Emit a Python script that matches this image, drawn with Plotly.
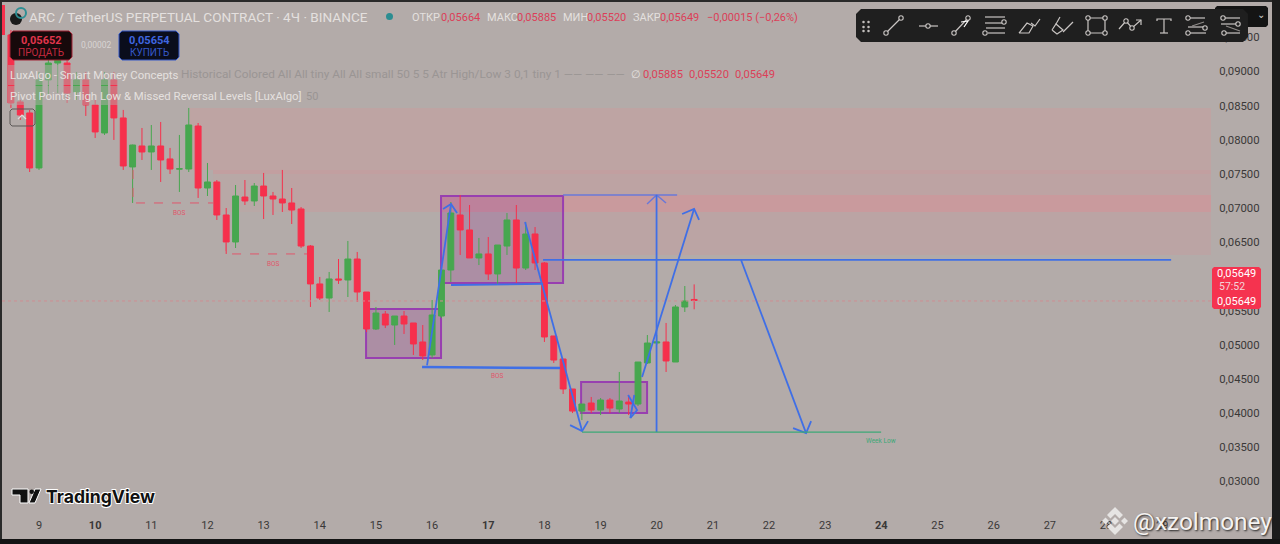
import plotly.graph_objects as go

# candles every 4h, x in days of the month, first candle is on the 8th at 12:00
candle_open = [
    0.09534, 0.08554, 0.08393, 0.07588, 0.08876, 0.09124, 0.09124, 0.08700, 0.08876, 0.08510,
    0.08100, 0.08876, 0.08320, 0.07603, 0.07910, 0.07822, 0.07910, 0.07720, 0.07573, 0.07573,
    0.08202, 0.07295, 0.07383, 0.06900, 0.06505, 0.07163, 0.07105, 0.07324, 0.07178, 0.07134,
    0.07076, 0.06988, 0.06446, 0.05891, 0.05685, 0.05964, 0.05949, 0.06256, 0.05773, 0.05232,
    0.05451, 0.05290, 0.05422, 0.05320, 0.05042, 0.04852, 0.05422, 0.06095, 0.06900, 0.06681,
    0.06271, 0.06330, 0.06037, 0.06446, 0.06827, 0.06124, 0.06622, 0.06198, 0.05130, 0.04793,
    0.04354, 0.04031, 0.04149, 0.04046, 0.04193, 0.04061, 0.04163, 0.04134, 0.04735, 0.05027,
    0.05042, 0.04749, 0.05554, 0.05664]
candle_close = [
    0.08539, 0.08363, 0.07588, 0.08876, 0.09124, 0.09198, 0.08685, 0.08876, 0.08510, 0.08115,
    0.08876, 0.08320, 0.07617, 0.07924, 0.07822, 0.07910, 0.07705, 0.07573, 0.07575, 0.08217,
    0.07295, 0.07383, 0.06900, 0.06505, 0.07178, 0.07105, 0.07324, 0.07178, 0.07134, 0.07076,
    0.06973, 0.06446, 0.05891, 0.05685, 0.05964, 0.05949, 0.06256, 0.05773, 0.05232, 0.05466,
    0.05290, 0.05422, 0.05305, 0.05013, 0.04837, 0.05437, 0.06095, 0.06929, 0.06681, 0.06271,
    0.06330, 0.06037, 0.06461, 0.06827, 0.06124, 0.06622, 0.06198, 0.05115, 0.04778, 0.04354,
    0.04031, 0.04134, 0.04046, 0.04193, 0.04075, 0.04178, 0.04134, 0.04749, 0.05027, 0.05042,
    0.04764, 0.05554, 0.05642, 0.05649]
candle_high = [
    0.09607, 0.08583, 0.08437, 0.08993, 0.09241, 0.09315, 0.09241, 0.08993, 0.08993, 0.08583,
    0.08993, 0.08993, 0.08437, 0.07930, 0.08173, 0.08217, 0.08261, 0.07881, 0.08071, 0.08466,
    0.08246, 0.07661, 0.07412, 0.07002, 0.07339, 0.07412, 0.07368, 0.07515, 0.07237, 0.07559,
    0.07295, 0.07017, 0.06461, 0.05993, 0.06066, 0.06256, 0.06520, 0.06359, 0.05773, 0.05554,
    0.05495, 0.05422, 0.05495, 0.05320, 0.05290, 0.05656, 0.06168, 0.07090, 0.07193, 0.07046,
    0.06564, 0.06578, 0.06461, 0.06929, 0.07046, 0.06798, 0.06724, 0.06212, 0.05130, 0.04793,
    0.04354, 0.04134, 0.04237, 0.04222, 0.04222, 0.04603, 0.04266, 0.04749, 0.05144, 0.05144,
    0.05320, 0.05583, 0.05861, 0.05885]
candle_low = [
    0.08466, 0.08290, 0.07529, 0.07559, 0.08656, 0.08685, 0.08539, 0.08583, 0.08349, 0.08027,
    0.08071, 0.07998, 0.07559, 0.07076, 0.07705, 0.07559, 0.07383, 0.07500, 0.07237, 0.07529,
    0.07149, 0.07178, 0.06827, 0.06330, 0.06417, 0.07046, 0.07032, 0.06841, 0.06900, 0.06944,
    0.06768, 0.06417, 0.05554, 0.05656, 0.05481, 0.05891, 0.05700, 0.05627, 0.05188, 0.05217,
    0.05246, 0.04998, 0.05159, 0.04852, 0.04778, 0.04808, 0.05393, 0.05920, 0.06315, 0.06271,
    0.06168, 0.05949, 0.05876, 0.06315, 0.05905, 0.06095, 0.06095, 0.05042, 0.04735, 0.04281,
    0.04002, 0.03900, 0.04002, 0.03973, 0.04002, 0.04002, 0.03973, 0.04105, 0.04720, 0.04998,
    0.04603, 0.04749, 0.05481, 0.05520]
candle_days = [8.5 + n / 6 for n in range(len(candle_open))]

day_ticks = list(range(9, 30))
day_labels = ['9', '<b>10</b>', '11', '12', '13', '14', '15', '16', '<b>17</b>', '18', '19', '20',
              '21', '22', '23', '<b>24</b>', '25', '26', '27', '28', '29']
price_ticks = [0.03, 0.035, 0.04, 0.045, 0.05, 0.055, 0.065, 0.07, 0.075, 0.08, 0.085, 0.09, 0.095]
price_labels = ['0,03000', '0,03500', '0,04000', '0,04500', '0,05000', '0,05500',
                '0,06500', '0,07000', '0,07500', '0,08000', '0,08500', '0,09000', '0,09500']

last_price = 0.05642
x_min, x_max = 8.341, 29.87
y_min, y_max = 0.02481, 0.09958

# drawings on the chart
bos_1_x, bos_1_y = [10.674, 10.674, 12.099], [0.07559, 0.07076, 0.07076]
bos_2_x, bos_2_y = [12.330, 12.330, 13.773], [0.06505, 0.06330, 0.06330]
bos_3_x, bos_3_y = [15.821, 18.279], [0.04676, 0.04661]
up_1_x, up_1_y = [15.91, 16.337], [0.04700, 0.07061]
up_1_head_x, up_1_head_y = [16.195, 16.337, 16.444], [0.06988, 0.07061, 0.06929]
range_low_x, range_low_y = [16.337, 17.976], [0.05876, 0.05891]
down_1_x, down_1_y = [17.655, 17.922, 18.065, 18.671], [0.06798, 0.05993, 0.05583, 0.03738]
down_1_head_x, down_1_head_y = [18.457, 18.671, 18.777], [0.03826, 0.03738, 0.03884]
small_x, small_y = [19.49, 19.65, 19.53], [0.04266, 0.04046, 0.03929]
small_2_x, small_2_y = [19.60, 19.53], [0.04266, 0.03929]
up_2_x, up_2_y = [19.739, 20.665], [0.04529, 0.06988]
up_2_head_x, up_2_head_y = [20.452, 20.665, 20.754], [0.06915, 0.06988, 0.06827]
vert_x, vert_y = [19.997, 19.997], [0.07193, 0.03723]
vert_head_x, vert_head_y = [19.828, 19.997, 20.166], [0.07061, 0.07193, 0.07076]
top_x, top_y = [18.332, 20.363], [0.07193, 0.07193]
level_x, level_y = [17.976, 29.16], [0.06242, 0.06242]
down_2_x, down_2_y = [21.502, 22.66], [0.06242, 0.03709]
down_2_head_x, down_2_head_y = [22.428, 22.66, 22.749], [0.03782, 0.03709, 0.03884]
week_low_x, week_low_y = [18.671, 23.996], [0.03723, 0.03723]

box_1 = [14.824, 16.159, 0.04808, 0.05525]
box_2 = [16.159, 18.332, 0.05905, 0.07178]
box_3 = [18.653, 19.828, 0.04002, 0.04456]

BG = '#b3aba9'
RED = '#f6304c'
GREEN = '#47a74f'
BLUE = '#3f6fe6'
PURPLE = '#983fb0'
TEXT = '#e4e0df'
ICON = '#c9c5c3'

W, H = 1280, 544
ML, MR, MT, MB = 2, 69, 6, 27


def px(x):
    return (x - ML) / (W - ML - MR)


def py(y):
    return 1 - (y - MT) / (H - MT - MB)


def path_px(points, close=False):
    s = ' '.join(('M' if i == 0 else 'L') + ' {:.5f} {:.5f}'.format(px(a), py(b))
                 for i, (a, b) in enumerate(points))
    return s + (' Z' if close else '')


def add_line(fig, x, y, color=BLUE, width=2, dash='solid'):
    fig.add_scatter(x=x, y=y, mode='lines', line={'color': color, 'width': width, 'dash': dash},
                    hoverinfo='skip', showlegend=False)


def page_rect(x0, y0, x1, y1, color, opacity=1):
    return dict(type='rect', xref='paper', yref='paper', x0=px(x0), x1=px(x1), y0=py(y0), y1=py(y1),
                fillcolor=color, line_width=0, opacity=opacity, layer='above')


def page_poly(points, color, line=None):
    return dict(type='path', xref='paper', yref='paper', layer='above', fillcolor=color,
                line=line or {'width': 0}, path=path_px(points, close=True))


def rounded(x0, y0, x1, y1, r=3):
    return [(x0 + r, y0), (x1 - r, y0), (x1, y0 + r), (x1, y1 - r),
            (x1 - r, y1), (x0 + r, y1), (x0, y1 - r), (x0, y0 + r)]


def zone(x0, y0, y1, color):
    return dict(type='rect', xref='x', yref='y', x0=x0, x1=x_max, y0=y0, y1=y1,
                fillcolor=color, line_width=0, layer='below')


def box(b):
    return dict(type='rect', xref='x', yref='y', x0=b[0], x1=b[1], y0=b[2], y1=b[3],
                fillcolor='rgba(150,50,150,0.24)', line={'color': PURPLE, 'width': 2}, layer='below')


def label(text, x, y, size=11, color=TEXT, family='Roboto', anchor='left', **kw):
    return dict(text=text, xref='paper', yref='paper', x=px(x), y=py(y), showarrow=False,
                xanchor=anchor, yanchor='middle', align=anchor, borderpad=0, borderwidth=0,
                font=dict(size=size, color=color, family=family, **kw))


def icon_line(points, color=ICON):
    return dict(type='path', xref='paper', yref='paper', path=path_px(points),
                line={'color': color, 'width': 1.2}, layer='above')


def icon_dot(x, y, r=2.2):
    return dict(type='circle', xref='paper', yref='paper', x0=px(x - r), x1=px(x + r),
                y0=py(y + r), y1=py(y - r), fillcolor='#1f1f1f',
                line={'color': ICON, 'width': 1.1}, layer='above')


def toolbar_shapes():
    s = [page_poly(rounded(856, 9, 1248, 42, 5), '#1f1f1f')]
    for gx in (863.5, 868.5):
        for gy in (22, 27, 31):
            s.append(icon_dot(gx, gy, 0.7))
    # trend line, ray, arrow
    s += [icon_line([(886, 33), (901, 18)]), icon_dot(886, 33), icon_dot(901, 18)]
    s += [icon_line([(919, 26), (938, 26)]), icon_dot(928, 26)]
    s += [icon_line([(954, 33), (968, 18)]), icon_dot(954, 33), icon_dot(968, 18),
          icon_line([(961, 22), (968, 21), (964, 27)], '#ffffff')]
    # fib
    s += [icon_line([(985, 17), (1005, 17)]), icon_line([(985, 23), (1002, 23)]),
          icon_line([(986, 28), (1005, 28)]), icon_line([(988, 33), (1005, 33)]),
          icon_dot(1004, 22), icon_dot(985, 33)]
    # brush and highlighter
    s += [icon_line([(1019, 33), (1029, 33), (1033, 26), (1027, 23), (1019, 33)]),
          icon_line([(1031, 23), (1035, 26), (1040, 19)])]
    s += [icon_line([(1052, 30), (1057, 34), (1063, 30), (1056, 24), (1052, 30)]),
          icon_line([(1056, 24), (1060, 17)]), icon_line([(1063, 32), (1073, 22)])]
    # rectangle
    s += [icon_line([(1088, 18), (1105, 18), (1105, 33), (1088, 33), (1088, 18)]),
          icon_dot(1088, 18), icon_dot(1105, 18), icon_dot(1105, 33), icon_dot(1088, 33)]
    # path
    s += [icon_line([(1119, 29), (1126, 21), (1132, 28), (1141, 20)]),
          icon_line([(1136, 20), (1141, 20), (1141, 25)]), icon_dot(1126, 21), icon_dot(1132, 28)]
    # text
    s += [icon_line([(1157, 21), (1157, 19), (1171, 19), (1171, 21)]), icon_line([(1164, 19), (1164, 33)]),
          icon_line([(1160, 33), (1168, 33)])]
    # forecast tools
    s += [icon_line([(1188, 18), (1205, 18)]), icon_line([(1188, 27), (1206, 27)]),
          icon_line([(1188, 33), (1206, 33)]), icon_line([(1192, 26), (1204, 22)], '#8f8b89'),
          icon_dot(1188, 18), icon_dot(1205, 28), icon_dot(1188, 33)]
    s += [icon_line([(1221, 18), (1240, 18)]), icon_line([(1221, 24), (1240, 24)]),
          icon_line([(1224, 33), (1240, 33)]), icon_line([(1226, 26), (1240, 31)], '#8f8b89'),
          icon_dot(1223, 18), icon_dot(1238, 24), icon_dot(1224, 33)]
    return s


def main():
    fig = go.Figure()
    fig.add_candlestick(x=candle_days, open=candle_open, high=candle_high, low=candle_low, close=candle_close,
                        increasing={'line': {'color': GREEN, 'width': 1}, 'fillcolor': GREEN},
                        decreasing={'line': {'color': RED, 'width': 1}, 'fillcolor': RED},
                        whiskerwidth=0, hoverinfo='skip', showlegend=False)

    add_line(fig, [x_min, x_max], [last_price, last_price], color='#cf8f94', width=1, dash='dot')
    add_line(fig, bos_1_x, bos_1_y, color='#e0576c', width=1, dash='dash')
    add_line(fig, bos_2_x, bos_2_y, color='#e0576c', width=1, dash='dash')
    add_line(fig, top_x, top_y, color='#6a78d8', width=1.5)
    add_line(fig, vert_head_x, vert_head_y, color='#6a78d8', width=1.5)
    add_line(fig, bos_3_x, bos_3_y, width=2.5)
    for x, y in [(up_1_x, up_1_y), (up_1_head_x, up_1_head_y), (range_low_x, range_low_y),
                 (down_1_x, down_1_y), (down_1_head_x, down_1_head_y), (small_x, small_y), (small_2_x, small_2_y),
                 (up_2_x, up_2_y), (up_2_head_x, up_2_head_y), (vert_x, vert_y),
                 (level_x, level_y), (down_2_x, down_2_y), (down_2_head_x, down_2_head_y)]:
        add_line(fig, x, y, width=1.8)
    add_line(fig, week_low_x, week_low_y, color='#3da877', width=1.2)

    logo_line = {'color': '#ffffff', 'width': 1}
    binance = '#e6e4e3'
    shapes = [
        zone(11.689, 0.08466, 0.07559, '#bea4a3'),
        zone(12.099, 0.07559, 0.07500, '#c29fa0'),
        zone(12.099, 0.07500, 0.06944, '#b8a8a6'),
        zone(13.345, 0.07500, 0.06944, '#bda3a3'),
        zone(16.159, 0.07193, 0.06944, '#c99a9d'),
        zone(18.332, 0.06944, 0.06315, '#bba4a4'),
        box(box_1), box(box_2), box(box_3),
        # faded strip behind the indicator rows
        page_rect(8, 65, 180, 85, BG, 0.5),
        page_rect(8, 86, 306, 105, BG, 0.5),
        # frame
        page_rect(0, 0, W, 2, '#2a2a2a'),
        page_rect(0, 0, 2, H, '#2a2a2a'),
        page_rect(1272, 0, W, H, '#1c1c1c'),
        page_rect(0, 539, W, H, '#141414'),
        page_rect(2, 5, 5, 35, RED),
        # sell / buy buttons
        page_poly(rounded(10, 31, 72, 60), '#17090b', {'color': '#a32436', 'width': 1}),
        page_poly(rounded(119, 31, 179, 60), '#0a0d1c', {'color': '#3558c8', 'width': 1}),
        page_poly(rounded(10, 109, 35, 126, 2), 'rgba(0,0,0,0)', {'color': '#5c5857', 'width': 1}),
        icon_line([(18, 119), (22, 115), (26, 119)], '#e0dcdb'),
        # symbol icon and status dot
        dict(type='circle', xref='paper', yref='paper', x0=px(10), x1=px(22), y0=py(25), y1=py(13),
             fillcolor='#1a1a1a', line_width=0, layer='above'),
        dict(type='circle', xref='paper', yref='paper', x0=px(16), x1=px(26), y0=py(18), y1=py(8),
             fillcolor='rgba(0,0,0,0)', line={'color': '#2e8f94', 'width': 2}, layer='above'),
        dict(type='circle', xref='paper', yref='paper', x0=px(386), x1=px(393), y0=py(20), y1=py(13),
             fillcolor='#2b8d91', line_width=0, layer='above'),
        # last price tag
        page_poly(rounded(1212, 267, 1261, 309, 2), '#f5334f'),
        # top right dark button
        page_poly(rounded(1215, 6, 1268, 27, 2), '#141414'),
        # TradingView logo
        page_poly([(12, 489), (28, 489), (28, 503), (20, 503), (20, 495), (12, 495)], '#111111', logo_line),
        page_poly([(35, 489), (41, 489), (35, 503), (29, 503)], '#111111', logo_line),
        dict(type='circle', xref='paper', yref='paper', x0=px(29.5), x1=px(34), y0=py(494), y1=py(489.5),
             fillcolor='#111111', line_width=0, layer='above'),
        # Binance mark
        page_poly([(1115, 507), (1123, 515), (1119.5, 518.5), (1115, 514), (1110.5, 518.5), (1107, 515)], binance),
        page_poly([(1115, 535), (1123, 527), (1119.5, 523.5), (1115, 528), (1110.5, 523.5), (1107, 527)], binance),
        page_poly([(1115, 517), (1119, 521), (1115, 525), (1111, 521)], binance),
        page_poly([(1105.5, 517.5), (1109, 521), (1105.5, 524.5), (1102, 521)], binance),
        page_poly([(1124.5, 517.5), (1128, 521), (1124.5, 524.5), (1121, 521)], binance),
    ] + toolbar_shapes()

    dim = '#9a9594'
    pink = '#dc3f58'
    halo = '0.8px 0.8px 0 #fff, -0.8px -0.8px 0 #fff, 0.8px -0.8px 0 #fff, -0.8px 0.8px 0 #fff'
    notes = [
        label('ARC / TetherUS PERPETUAL CONTRACT · 4Ч · BINANCE', 29, 17, size=13.6),
        label('ОТКР', 412, 17, size=11), label('0,05664', 441, 17, size=11, color=pink),
        label('МАКС', 487, 17, size=11), label('0,05885', 517, 17, size=11, color=pink),
        label('МИН', 563, 17, size=11), label('0,05520', 587, 17, size=11, color=pink),
        label('ЗАКР', 633, 17, size=11), label('0,05649', 660, 17, size=11, color=pink),
        label('−0,00015 (−0,26%)', 707, 17, size=11, color=pink),
        label('0,05652', 41, 40, size=11, color='#e0354c', anchor='center', weight=700),
        label('ПРОДАТЬ', 41, 52, size=10, color='#c42a40', anchor='center'),
        label('0,00002', 96, 45, size=8.5, color='#d8d4d3', anchor='center'),
        label('0,05654', 149, 40, size=11, color='#3f66e0', anchor='center', weight=700),
        label('КУПИТЬ', 149, 52, size=10, color='#3558c8', anchor='center'),
        label('LuxAlgo - Smart Money Concepts', 10, 75, size=11.4),
        label('Historical Colored All All tiny All All small 50 5 5 Atr High/Low 3 0,1 tiny 1 —— —— ——',
              181, 74, size=11.8, color=dim),
        label('∅', 631, 74, size=11),
        label('0,05885', 643, 74, size=11.2, color=pink),
        label('0,05520', 689, 74, size=11.2, color=pink),
        label('0,05649', 735, 74, size=11.2, color=pink),
        label('Pivot Points High Low &amp; Missed Reversal Levels [LuxAlgo]', 10, 96, size=11.4),
        label('50', 306, 96, size=11, color=dim),
        label('BOS', 179, 213, size=6.5, color='#e0576c', anchor='center'),
        label('BOS', 273, 264, size=6.5, color='#e0576c', anchor='center'),
        label('BOS', 497, 376, size=6.5, color='#e0576c', anchor='center'),
        label('Week Low', 881, 441, size=6.5, color='#3da877', anchor='center'),
        label('0,05649', 1236, 273, size=11, color='#ffffff', anchor='center'),
        label('57:52', 1232, 286, size=10.5, color='#f3d5d9', anchor='center'),
        label('0,05649', 1236, 301, size=11, color='#ffffff', anchor='center'),
        label('⌄', 1261, 15, size=10, color='#d0cccb', anchor='center'),
        label('TradingView', 46, 496, size=17.6, color='#111111', family='Inter', weight=700, shadow=halo),
        label('@xzolmoney', 1133, 521, size=24.4, color='#f4f2f1', family='Roboto', shadow='1px 1px 2px #222'),
    ]

    fig.update_layout(
        width=W, height=H, margin={'l': ML, 'r': MR, 't': MT, 'b': MB, 'pad': 0},
        paper_bgcolor=BG, plot_bgcolor=BG, showlegend=False, boxgap=0.1,
        font={'family': 'Roboto', 'size': 11, 'color': '#3a3838'},
        shapes=shapes, annotations=notes,
        xaxis=dict(range=[x_min, x_max], tickmode='array', tickvals=day_ticks, ticktext=day_labels,
                   showgrid=False, zeroline=False, showline=False, rangeslider={'visible': False},
                   ticks='', tickfont={'size': 11, 'color': '#3a3838'}),
        yaxis=dict(range=[y_min, y_max], side='right', tickmode='array', tickvals=price_ticks,
                   ticktext=price_labels, showgrid=False, zeroline=False, showline=False,
                   ticks='outside', ticklen=5, tickcolor=BG, tickfont={'size': 11.3, 'color': '#3a3838'}),
    )
    fig.write_html('out.html', config={'displayModeBar': False},
                   post_script="document.body.style.margin='0';")


if __name__ == "__main__":
    main()
